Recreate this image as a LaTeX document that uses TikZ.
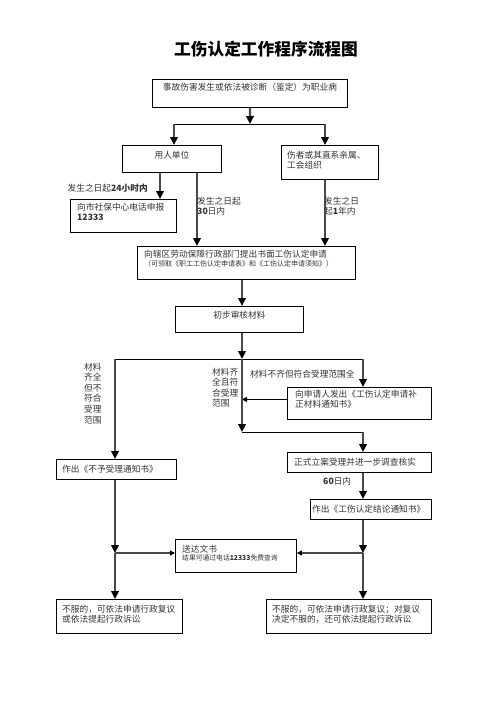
\documentclass[tikz,border=0pt]{standalone}
\usepackage{fontspec}
\setmainfont{Noto Sans CJK SC}
\usepackage{xcolor}
\usepackage{tikz}
\usetikzlibrary{arrows.meta,positioning,calc}
\definecolor{linegray}{HTML}{4A4A4A}
\definecolor{textgray}{HTML}{333333}

\begin{document}
\begin{tikzpicture}[x=1pt,y=-1pt,>=Latex,
  box/.style={draw=black,line width=0.9pt,anchor=north west,inner sep=0pt},
  txt/.style={text=textgray,font=\fontsize{8.7}{10.6}\selectfont,inner sep=0pt,align=left},
  flow/.style={draw=linegray,line width=2.4pt,-{Triangle[length=8pt,width=7.5pt,color=black]}},
  side/.style={draw=linegray,line width=1.4pt,-{Triangle[length=5pt,width=5pt,color=black]}},
  bar/.style={draw=black,line width=0.8pt}]
  \useasboundingbox (0,0) rectangle (496,702);
  \node[font=\fontsize{16.7}{20}\selectfont\bfseries] (title) at (266,49.5) {工伤认定工作程序流程图};

  % boxes
  \node[box,minimum width=195pt,minimum height=28pt] (accident) at (152,79) {};
  \node[box,minimum width=99pt,minimum height=27pt] (employer) at (122,145) {};
  \node[box,minimum width=97pt,minimum height=34pt] (injured) at (281,145) {};
  \node[box,minimum width=106pt,minimum height=33pt] (hotline) at (70,199) {};
  \node[box,minimum width=218pt,minimum height=33pt] (apply) at (137,246) {};
  \node[box,minimum width=128pt,minimum height=26pt] (review) at (175,306) {};
  \node[box,minimum width=144pt,minimum height=32pt] (notify) at (287,387) {};
  \node[box,minimum width=120pt,minimum height=20pt] (reject) at (56,459) {};
  \node[box,minimum width=144pt,minimum height=20pt] (accept) at (287,452) {};
  \node[box,minimum width=121pt,minimum height=20pt] (conclude) at (310,499) {};
  \node[box,minimum width=121pt,minimum height=33pt] (deliver) at (175,539) {};
  \node[box,minimum width=126pt,minimum height=34pt] (appealL) at (56,599) {};
  \node[box,minimum width=165pt,minimum height=34pt] (appealR) at (266,599) {};

  % box texts
  \node[txt,below=3.5pt of accident.north] (accidentT) {事故伤害发生或依法被诊断（鉴定）为职业病};
  \node[txt,below=5.5pt of employer.north] (employerT) {用人单位};
  \node[txt,below right=5.5pt and 6pt of injured.north west] (injuredT) {伤者或其直系亲属、\\工会组织};
  \node[txt,below right=3.5pt and 7pt of hotline.north west] (hotlineT) {向市社保中心电话申报\\\textbf{12333}};
  \node[txt,below right=3.5pt and 7pt of apply.north west] (applyT) {向辖区劳动保障行政部门提出书面工伤认定申请\\[-1.5pt]
    {\fontsize{7}{9}\selectfont（可领取《职工工伤认定申请表》和《工伤认定申请须知》）}};
  \node[txt,below=4.5pt of review.north] (reviewT) {初步审核材料};
  \node[txt,below right=2.5pt and 8pt of notify.north west] (notifyT) {向申请人发出《工伤认定申请补\\正材料通知书》};
  \node[txt,below right=5.5pt and 6pt of reject.north west] (rejectT) {作出《不予受理通知书》};
  \node[txt,below right=5.5pt and 7pt of accept.north west] (acceptT) {正式立案受理并进一步调查核实};
  \node[txt,below right=5.5pt and 2pt of conclude.north west] (concludeT) {作出《工伤认定结论通知书》};
  \node[txt,below right=5.5pt and 7pt of deliver.north west] (deliverT) {送达文书\\[-2pt]
    {\fontsize{6.8}{8}\selectfont 结果可通过电话\textbf{12333}免费查询}};
  \node[txt,below right=5.5pt and 6pt of appealL.north west] (appealLT) {不服的，可依法申请行政复议\\或依法提起行政诉讼};
  \node[txt,below right=5.5pt and 6pt of appealR.north west] (appealRT) {不服的，可依法申请行政复议；对复议\\决定不服的，还可依法提起行政诉讼};

  % labels on the lines
  \node[txt,anchor=east] (lab24) at (148,188) {发生之日起\textbf{24小时内}};
  \node[txt,anchor=north west] (lab30) at (197,196.5) {发生之日起\\\textbf{30}日内};
  \node[txt,anchor=north west] (lab1y) at (324,196.5) {发生之日\\起\textbf{1}年内};
  \node[txt,anchor=north west] (labNo) at (84,362.5) {材料\\齐全\\但不\\符合\\受理\\范围};
  \node[txt,anchor=north west] (labOk) at (212,367.5) {材料齐\\全且符\\合受理\\范围};
  \node[txt,anchor=north west] (labFix) at (250,369.5) {材料不齐但符合受理范围全};
  \node[txt,anchor=north west] (lab60) at (323,476.5) {\textbf{60}日内};

  % columns and forks
  \coordinate (col24) at (160,0);
  \coordinate (col30) at (197,0);
  \coordinate (colL) at (115,0);
  \coordinate (colM) at (242,0);
  \coordinate (colR) at (363,0);
  \coordinate (fork1) at (250,124);
  \coordinate (fork1l) at (174,124);
  \coordinate (fork1r) at (325,124);
  \coordinate (fork2) at (242,359);
  \coordinate (join) at (242,432);
  \coordinate (mergeL) at (115,553);
  \coordinate (mergeR) at (363,553);

  % connectors
  \draw[flow] (accident.south) -- (fork1);
  \draw[bar] (fork1l) -- (fork1r);
  \draw[flow] (fork1l) -- (fork1l |- employer.north);
  \draw[flow] (fork1r) -- (fork1r |- injured.north);
  \draw[flow] (employer.south -| col24) -- (hotline.north -| col24);
  \draw[flow] (employer.south -| col30) -- (apply.north -| col30);
  \draw[flow] (injured.south -| fork1r) -- (apply.north -| fork1r);
  \draw[flow] (apply.south -| colM) -- (review.north -| colM);
  \draw[flow] (review.south -| colM) -- (fork2);
  \draw[bar] (fork2 -| colL) -- (fork2 -| colR);
  \draw[flow] (fork2 -| colL) -- (reject.north -| colL);
  \draw[flow] (fork2 -| colR) -- (notify.north -| colR);
  \draw[side,draw=black,line width=0.9pt] ([yshift=4pt]notify.west) -- ([yshift=4pt]notify.west -| colM);
  \draw[flow] (fork2) -- (join);
  \draw[bar] (join) -- (join -| colR);
  \draw[flow] (join -| colR) -- (accept.north -| colR);
  \draw[flow] (accept.south -| colR) -- (conclude.north -| colR);
  \draw[flow] (reject.south -| colL) -- (mergeL);
  \draw[flow] (mergeL) -- (appealL.north -| colL);
  \draw[side] (mergeL) -- (mergeL -| deliver.west);
  \draw[flow] (conclude.south -| colR) -- (mergeR);
  \draw[flow] (mergeR) -- (appealR.north -| colR);
  \draw[side] (mergeR) -- (mergeR -| deliver.east);
\end{tikzpicture}
\end{document}
